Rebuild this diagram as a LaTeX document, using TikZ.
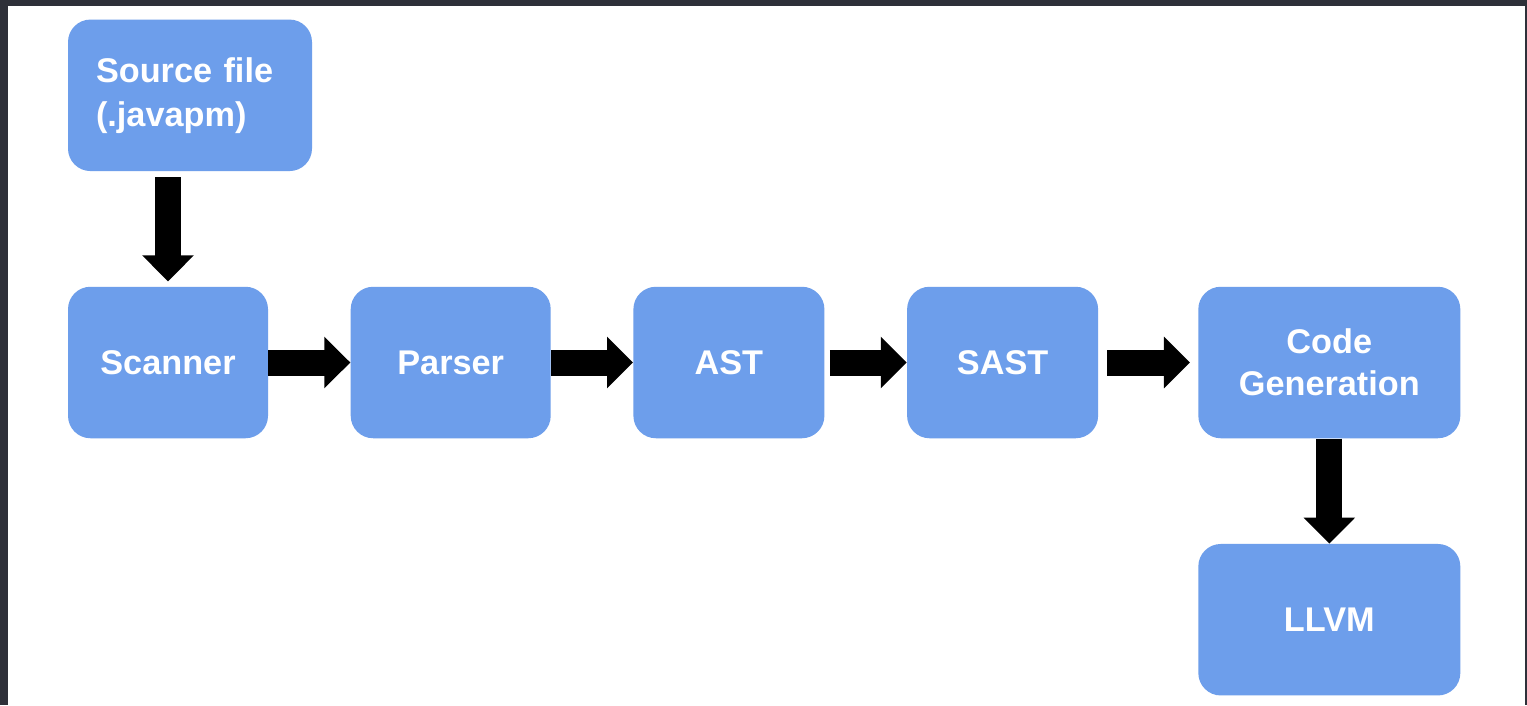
\documentclass[tikz,border=0pt]{standalone}
\usepackage{fontspec}
\setmainfont{Liberation Sans}
\usepackage{tikz}
\usetikzlibrary{positioning, arrows.meta}
\definecolor{boxblue}{HTML}{6D9EEB}
\definecolor{framegray}{HTML}{2E3039}
\tikzstyle{stage} = [rectangle, rounded corners=0.45cm, minimum width=4cm, minimum height=3.03cm, text centered, fill=boxblue, text=white, font=\fontsize{19.5}{24}\selectfont\bfseries]
\tikzstyle{bigarrow} = [line width=0.52cm, -{Triangle[length=0.52cm, width=1cm]}]

\begin{document}
\begin{tikzpicture}

% Frame
\fill [framegray] (0,0) rectangle (30.54,-14.1);
\fill [white] (0.16,-0.12) rectangle (30.5,-14.1);
\useasboundingbox (0,0) rectangle (30.54,-14.1);

% Nodes
\node (scan) [stage] at (3.36,-7.25) {Scanner};
\node (parse) [stage, right=1.64cm of scan] {Parser};
\node (ast) [stage, right=1.64cm of parse, minimum width=3.82cm] {AST};
\node (sast) [stage, right=1.64cm of ast, minimum width=3.82cm] {SAST};
\node (code) [stage, right=1.99cm of sast, minimum width=5.24cm, align=center] {Code\\Generation};
\node (llvm) [stage, below=2.1cm of code, minimum width=5.24cm] {LLVM};
\node (src) [stage, above=2.3cm of scan.north west, anchor=south west, inner xsep=0.56cm, text width=3.76cm, align=left, font=\fontsize{19.5}{25}\selectfont\bfseries] {Source file\\(.javapm)};

% Arrows
\draw [bigarrow, shorten <=0.12cm, shorten >=0.1cm] (scan.north |- src.south) -- (scan.north);
\draw [bigarrow] (scan) -- (parse);
\draw [bigarrow] (parse) -- (ast);
\draw [bigarrow, shorten <=0.1cm] (ast) -- (sast);
\draw [bigarrow, shorten <=0.18cm, shorten >=0.16cm] (sast) -- (code);
\draw [bigarrow] (code) -- (llvm);

\end{tikzpicture}
\end{document}
